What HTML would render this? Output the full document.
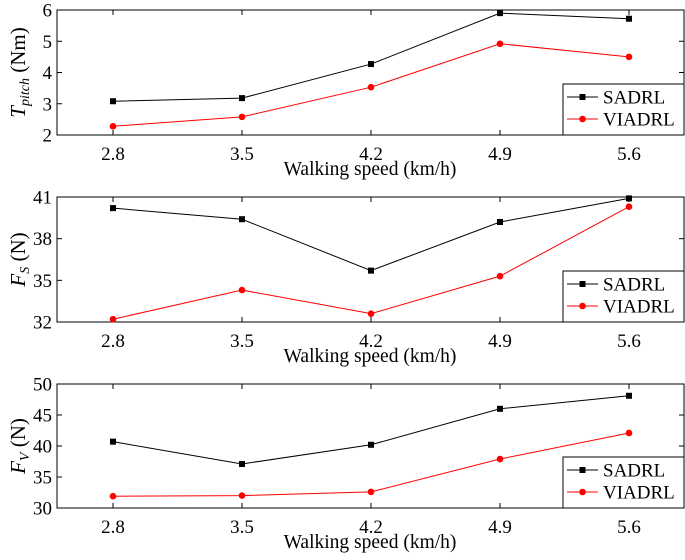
<!DOCTYPE html>
<html><head><meta charset="utf-8"><style>
body{margin:0;background:#fff;}
svg text{font-family:"Liberation Serif",serif;fill:#000;}
</style></head><body>
<svg id="c" width="685" height="555" xmlns="http://www.w3.org/2000/svg"></svg>
<script>
const categories=["2.8","3.5","4.2","4.9","5.6"];
const pitchSADRL=[3.08,3.18,4.27,5.9,5.72];
const pitchVIADRL=[2.28,2.58,3.53,4.92,4.5];
const fsSADRL=[40.2,39.4,35.7,39.2,40.9];
const fsVIADRL=[32.2,34.3,32.6,35.3,40.3];
const fvSADRL=[40.7,37.1,40.2,46,48.1];
const fvVIADRL=[31.9,32,32.6,37.9,42.1];
const pitchTicks=[2,3,4,5,6];
const fsTicks=[32,35,38,41];
const fvTicks=[30,35,40,45,50];

const svg=document.getElementById('c');
const NS="http://www.w3.org/2000/svg";
function mk(tag,attrs,parent){const e=document.createElementNS(NS,tag);for(const k in attrs)e.setAttribute(k,attrs[k]);(parent||svg).appendChild(e);return e;}
const L=57,R=684;
function xs(i){return 113+i*(629-113)/(categories.length-1);}

function panel(name,top,bot,ticks,s1,s2,ylabelMain,ylabelSub){
  const g=mk('g',{});
  
  
  const lo=ticks[0],hi=ticks[ticks.length-1];
  const ys=v=>bot-(v-lo)/(hi-lo)*(bot-top);
  const box=mk('rect',{x:L,y:top,width:R-L,height:bot-top,fill:'none',stroke:'#000','stroke-width':1},g);
  
  
  ticks.forEach(t=>{
    const y=ys(t);
    mk('line',{x1:L,x2:L+5,y1:y,y2:y,stroke:'#000'},g);
    mk('line',{x1:R-5,x2:R,y1:y,y2:y,stroke:'#000'},g);
    const tx=mk('text',{x:L-5,y:y+6.5,'text-anchor':'end','font-size':19},g);
    tx.textContent=t;
    
    
  });
  categories.forEach((c,i)=>{
    const x=xs(i);
    mk('line',{x1:x,x2:x,y1:bot,y2:bot-5,stroke:'#000'},g);
    mk('line',{x1:x,x2:x,y1:top,y2:top+5,stroke:'#000'},g);
    const tx=mk('text',{x:x,y:bot+25,'text-anchor':'middle','font-size':19},g);
    tx.textContent=c;
    
    
  });
  const xt=mk('text',{x:370,y:bot+40,'text-anchor':'middle','font-size':19.5},g);
  xt.textContent='Walking speed (km/h)';
  
  
  const yt=mk('text',{transform:`translate(25,${(top+bot)/2}) rotate(-90)`,'text-anchor':'middle','font-size':21},g);
  
  
  const t1=mk('tspan',{'font-style':'italic'},yt);t1.textContent=ylabelMain;
  const t2=mk('tspan',{'font-style':'italic','font-size':14,dy:4},yt);t2.textContent=ylabelSub;
  const t3=mk('tspan',{dy:-4},yt);t3.textContent=' '+(name==='pitch'?'(Nm)':'(N)');
  [[s1,'#000','SADRL','square'],[s2,'#f00','VIADRL','circle']].forEach(([s,col,lab,mark])=>{
    const pts=s.map((v,i)=>xs(i)+','+ys(v)).join(' ');
    const pl=mk('polyline',{points:pts,fill:'none',stroke:col,'stroke-width':1},g);
    
    
    s.forEach((v,i)=>{
      let m;
      if(mark==='square') m=mk('rect',{x:xs(i)-3,y:ys(v)-3,width:6,height:6,fill:col},g);
      else m=mk('circle',{cx:xs(i),cy:ys(v),r:3.3,fill:col},g);
      
      
    });
  });
  const lg=mk('g',{},g);
  
  
  mk('rect',{x:563,y:bot-51,width:R-563,height:51,fill:'#fff',stroke:'#000'},lg);
  [['#000','SADRL',bot-38,'square'],['#f00','VIADRL',bot-16,'circle']].forEach(([col,lab,y,mark])=>{
    mk('line',{x1:567,x2:598,y1:y,y2:y,stroke:col},lg);
    if(mark==='square') mk('rect',{x:579.5,y:y-3,width:6,height:6,fill:col},lg);
    else mk('circle',{cx:582.5,cy:y,r:3.3,fill:col},lg);
    const t=mk('text',{x:603,y:y+6.5,'font-size':19},lg);t.textContent=lab;
    
    
  });
}
panel('pitch',10,135,pitchTicks,pitchSADRL,pitchVIADRL,'T','pitch');
panel('fs',197,322,fsTicks,fsSADRL,fsVIADRL,'F','S');
panel('fv',384,508,fvTicks,fvSADRL,fvVIADRL,'F','V');
</script>
</body></html>
